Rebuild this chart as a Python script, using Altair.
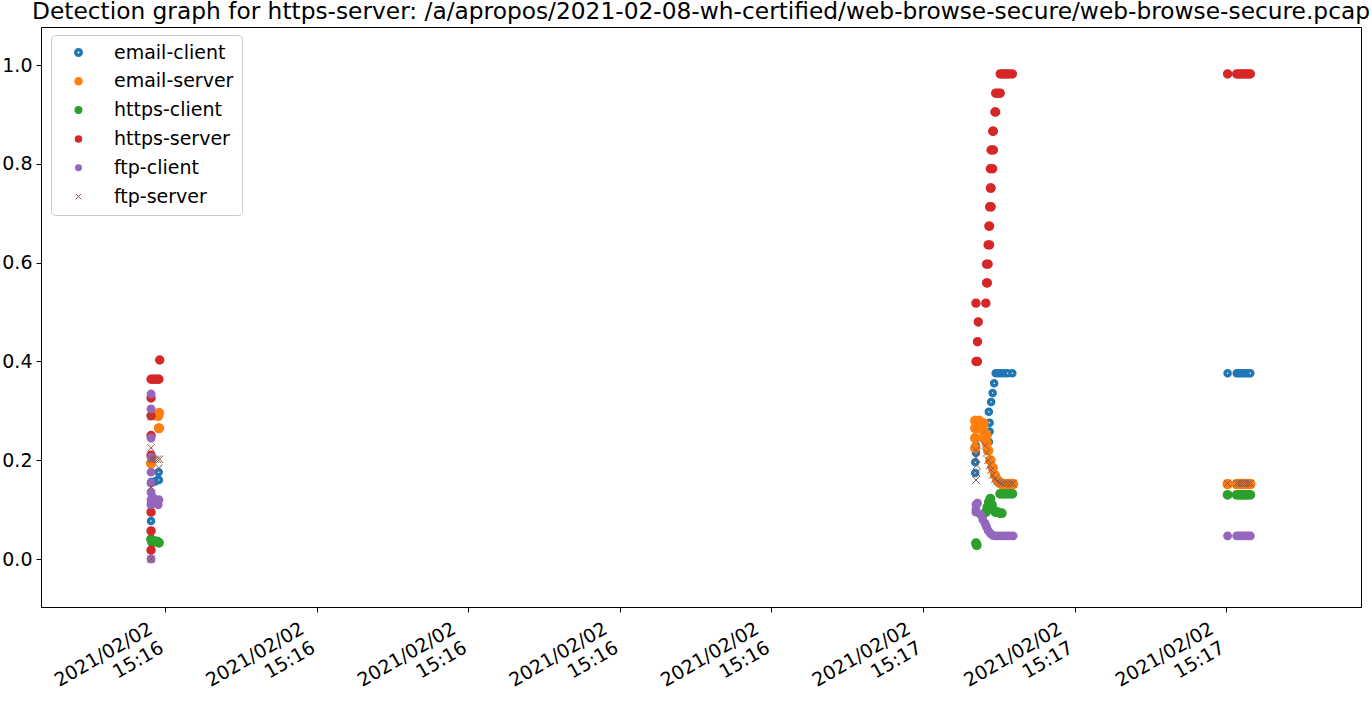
import altair as alt
import pandas as pd

TITLE = "Detection graph for https-server: /a/apropos/2021-02-08-wh-certified/web-browse-secure/web-browse-secure.pcap"

SERIES = ["email-client", "email-server", "https-client", "https-server", "ftp-client", "ftp-server"]
STROKES = ["#1f77b4", "#ff7f0e", "#2ca02c", "#d62728", "#9467bd", "#8c564b"]
FILLS = ["#ffffff", "#ff7f0e", "#2ca02c", "#d62728", "#9467bd", "#8c564b"]
XPATH = "M-1,-1L1,1M1,-1L-1,1"
SHAPES = ["circle", "circle", "circle", "circle", "circle", XPATH]
STROKE_WIDTHS = [3.5, 1, 1, 1, 1, 1.5]

# seconds after 15:16:00 on 2021/02/02
TICK_VALUES = [10, 20, 30, 40, 50, 60, 70, 80]
TICK_DATE = "2021/02/02"
TICK_TIMES = ["15:16", "15:16", "15:16", "15:16", "15:16", "15:17", "15:17", "15:17"]
Y_TICKS = [0.0, 0.2, 0.4, 0.6, 0.8, 1.0]

# third burst of detections (same times for every series)
C3_T = [80.1, 80.7, 80.85, 81.0, 81.15, 81.3, 81.45, 81.6]
C3_V = {"email-client": 0.376, "email-server": 0.152, "https-client": 0.13,
        "https-server": 0.982, "ftp-client": 0.047, "ftp-server": 0.153}

email_client = [
    (9.08, 0.077), (9.08, 0.113), (9.08, 0.156), (9.2, 0.156), (9.35, 0.157), (9.5, 0.16), (9.6, 0.16), (9.58, 0.176),
    (63.45, 0.174), (63.45, 0.196), (63.5, 0.215), (63.5, 0.23), (64.35, 0.237), (64.4, 0.258), (64.4, 0.276),
    (64.35, 0.298), (64.5, 0.318), (64.6, 0.336), (64.7, 0.356), (64.8, 0.376), (65.0, 0.376), (65.2, 0.376),
    (65.4, 0.376), (65.6, 0.376), (65.9, 0.376),
]
email_server = [
    (9.08, 0.194), (9.55, 0.29), (9.6, 0.296), (9.6, 0.265),
    (63.45, 0.28), (63.45, 0.265), (63.45, 0.245), (63.45, 0.225), (63.7, 0.28), (63.7, 0.265), (64.0, 0.275),
    (64.0, 0.26), (64.0, 0.245), (64.2, 0.25), (64.2, 0.235), (64.3, 0.22), (64.45, 0.2), (64.6, 0.185),
    (64.75, 0.17), (64.9, 0.16), (65.05, 0.155), (65.2, 0.152), (65.4, 0.152), (65.6, 0.152), (65.8, 0.152),
    (65.95, 0.152),
]
https_client = [
    (9.08, 0.04), (9.15, 0.034), (9.25, 0.035), (9.35, 0.036), (9.5, 0.035), (9.6, 0.033),
    (63.5, 0.032), (63.55, 0.028), (64.15, 0.095), (64.25, 0.105), (64.35, 0.115), (64.45, 0.122), (64.55, 0.11),
    (64.65, 0.1), (64.8, 0.095), (64.95, 0.095), (65.1, 0.093), (65.2, 0.093), (65.1, 0.132), (65.3, 0.132),
    (65.5, 0.132), (65.7, 0.132), (65.9, 0.132),
]
https_server = [
    (9.08, 0.018), (9.08, 0.057), (9.08, 0.095), (9.08, 0.21), (9.08, 0.25), (9.08, 0.29), (9.08, 0.326),
    (9.08, 0.364), (9.2, 0.364), (9.35, 0.364), (9.5, 0.364), (9.6, 0.364), (9.65, 0.403),
    (63.5, 0.40), (63.6, 0.40), (63.6, 0.44), (63.65, 0.48), (63.5, 0.518), (64.15, 0.518),
    (64.2, 0.559), (64.25, 0.559), (64.2, 0.597), (64.3, 0.597), (64.3, 0.636), (64.4, 0.636),
    (64.35, 0.674), (64.4, 0.674), (64.4, 0.713), (64.5, 0.713), (64.45, 0.751), (64.5, 0.751),
    (64.45, 0.79), (64.6, 0.79), (64.5, 0.828), (64.65, 0.828), (64.6, 0.866), (64.65, 0.866),
    (64.75, 0.905), (64.8, 0.905), (64.8, 0.943), (64.95, 0.943), (65.1, 0.943),
    (65.1, 0.982), (65.25, 0.982), (65.4, 0.982), (65.55, 0.982), (65.7, 0.982), (65.9, 0.982),
]
ftp_client = [
    (9.08, 0.0), (9.08, 0.11), (9.08, 0.12), (9.08, 0.135), (9.08, 0.154), (9.08, 0.176), (9.08, 0.206),
    (9.08, 0.245), (9.08, 0.304), (9.08, 0.334), (9.2, 0.125), (9.35, 0.12), (9.5, 0.115), (9.6, 0.12),
    (9.55, 0.11),
    (63.5, 0.11), (63.5, 0.1), (63.5, 0.095), (63.6, 0.113), (63.8, 0.09), (63.95, 0.08), (64.1, 0.072),
    (64.2, 0.065), (64.3, 0.058), (64.45, 0.052), (64.6, 0.048), (64.75, 0.047), (64.95, 0.047), (65.15, 0.047),
    (65.35, 0.047), (65.55, 0.047), (65.75, 0.047), (65.95, 0.047),
]
ftp_server = [
    (9.08, 0.0), (9.08, 0.146), (9.08, 0.202), (9.08, 0.225), (9.08, 0.288), (9.2, 0.202), (9.35, 0.202),
    (9.5, 0.202), (9.65, 0.202), (9.6, 0.184),
    (63.5, 0.22), (63.5, 0.205), (63.55, 0.19), (63.55, 0.175), (63.5, 0.16), (64.1, 0.23), (64.2, 0.215),
    (64.3, 0.2), (64.4, 0.19), (64.5, 0.18), (64.6, 0.17), (64.75, 0.162), (64.9, 0.157), (65.05, 0.155),
    (65.2, 0.153), (65.4, 0.153), (65.6, 0.153), (65.8, 0.153), (65.95, 0.153),
]

points = {
    "email-client": email_client, "email-server": email_server, "https-client": https_client,
    "https-server": https_server, "ftp-client": ftp_client, "ftp-server": ftp_server,
}

rows = []
for s in SERIES:
    for t, v in points[s]:
        rows.append({"series": s, "t": t, "v": v})
    for t in C3_T:
        rows.append({"series": s, "t": t, "v": C3_V[s]})
df = pd.DataFrame(rows)

# label expression built from tick lists
expr = "['%s', '%s']" % (TICK_DATE, TICK_TIMES[-1])
for val, tm in reversed(list(zip(TICK_VALUES, TICK_TIMES))[:-1]):
    expr = "datum.value == %s ? ['%s', '%s'] : %s" % (val, TICK_DATE, tm, expr)

FONT = "DejaVu Sans"

chart = alt.Chart(df).mark_point(filled=True, opacity=1).encode(
    x=alt.X("t:Q", title=None,
            scale=alt.Scale(domain=[1.82, 88.9], nice=False, zero=False),
            axis=alt.Axis(values=TICK_VALUES, labelExpr=expr, labelAngle=330, labelAlign="right",
                          labelBaseline="top", labelOffset=-19, labelPadding=7, labelLineHeight=22,
                          labelFontSize=19, labelFont=FONT)),
    y=alt.Y("v:Q", title=None,
            scale=alt.Scale(domain=[-0.097, 1.077], nice=False, zero=False),
            axis=alt.Axis(values=Y_TICKS, format=".1f", labelFontSize=19, labelFont=FONT, labelPadding=4)),
    fill=alt.Fill("series:N", scale=alt.Scale(domain=SERIES, range=FILLS),
                  legend=alt.Legend(title=None, orient="none", legendX=10, legendY=8, padding=8,
                                    cornerRadius=4, strokeColor="#cccccc", fillColor="rgba(255,255,255,0.8)",
                                    labelFontSize=19, labelFont=FONT, labelColor="black", symbolSize=30,
                                    symbolOffset=10, labelOffset=26, rowPadding=8.8, labelLimit=400,
                                    symbolStrokeWidth=1.5)),
    stroke=alt.Stroke("series:N", scale=alt.Scale(domain=SERIES, range=STROKES),
                      legend=alt.Legend(title=None)),
    shape=alt.Shape("series:N", scale=alt.Scale(domain=SERIES, range=SHAPES),
                    legend=alt.Legend(title=None)),
    strokeWidth=alt.StrokeWidth("series:N", scale=alt.Scale(domain=SERIES, range=STROKE_WIDTHS), legend=None),
    size=alt.condition(alt.datum.series == "email-client", alt.value(25), alt.value(55)),
).properties(
    width=1320, height=580,
    autosize=alt.AutoSizeParams(type="none"),
    padding={"left": 41, "top": 27, "right": 11, "bottom": 102},
    title=alt.TitleParams(text=TITLE, fontSize=23.3, font=FONT, fontWeight="normal", anchor="middle",
                          frame="group", baseline="bottom", offset=-20, color="black"),
).configure_view(stroke="black", strokeWidth=1).configure_axis(
    grid=False, domainColor="black", tickColor="black", labelColor="black", tickSize=5, domainWidth=1
)

chart.save("out.html", embed_options={"renderer": "svg", "actions": False})
